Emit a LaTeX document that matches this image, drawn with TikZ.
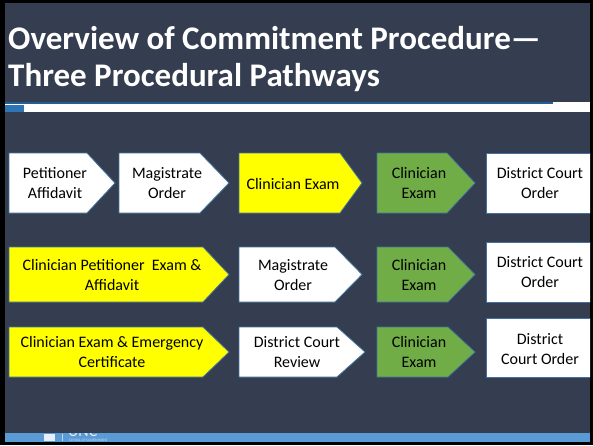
\documentclass[tikz,border=0pt]{standalone}
\usepackage{fontspec}
\setmainfont{Carlito}
\definecolor{slate}{HTML}{353E50}
\definecolor{sepblue}{HTML}{255E91}
\definecolor{blockblue}{HTML}{2E75B6}
\definecolor{band}{HTML}{5B9BD5}
\definecolor{bordc}{HTML}{41719C}
\definecolor{grn}{HTML}{70AD47}
\definecolor{yel}{HTML}{FFFF00}
\newcommand\chev[6]{\draw[box,fill=#6] (#1,#4) -- (#2,#4) -- (#3,{(#4+#5)/2}) -- (#2,#5) -- (#1,#5) -- cycle;}
\begin{document}
\begin{tikzpicture}[x=1pt,y=-1pt,
  box/.style={draw=bordc, line width=0.8pt},
  lbl/.style={font=\fontsize{16}{20}\selectfont, align=center, text=black, inner sep=0pt},
  ttl/.style={anchor=base west, text=white, inner sep=0pt, font=\fontsize{33}{37}\selectfont\bfseries}]
\useasboundingbox (0,0) rectangle (593,445);
\fill[black] (0,0) rectangle (593,445);
\fill[slate] (5,3) rectangle (590,442);
\begin{scope}
\clip (5,3) rectangle (590,442);
% title
\node[ttl] (title1) at (8,49) {Overview of Commitment Procedure—};
\node[ttl] (title2) at (8,86) {Three Procedural Pathways};
% separator
\fill[sepblue] (5,101.5) rectangle (553,104);
\fill[white] (5,104) rectangle (590,112);
\fill[white] (553,101.5) rectangle (590,104);
\fill[blockblue] (5,104.5) rectangle (24,112);
% row 1
\chev{9}{87}{115}{153}{213}{white}
\chev{119}{200}{229}{153}{213}{white}
\chev{239}{340}{362}{153}{213}{yel}
\chev{377}{447}{475}{153}{213}{grn}
\draw[box,fill=white] (486,153) rectangle (600,213);
\node[lbl] (r1a) at (55,183) {Petitioner\\Affidavit};
\node[lbl] (r1b) at (167,183) {Magistrate\\Order};
\node[lbl] (r1c) at (293,184) {Clinician Exam};
\node[lbl] (r1d) at (419,183) {Clinician\\Exam};
\node[lbl] (r1e) at (540,183) {District Court\\Order};
% row 2
\chev{9}{203}{229}{247}{302}{yel}
\chev{239}{335}{362}{247}{302}{white}
\chev{377}{448}{475}{247}{302}{grn}
\draw[box,fill=white] (486,242) rectangle (600,302);
\node[lbl] (r2a) at (112,275) {Clinician Petitioner\ \ Exam \&\\Affidavit};
\node[lbl] (r2b) at (293,275) {Magistrate\\Order};
\node[lbl] (r2c) at (419,275) {Clinician\\Exam};
\node[lbl] (r2d) at (540,272) {District Court\\Order};
% row 3
\chev{9}{203}{229}{327}{377}{yel}
\chev{239}{337}{365}{327}{377}{white}
\chev{377}{448}{475}{327}{377}{grn}
\draw[box,fill=white] (486,318) rectangle (600,377);
\node[lbl] (r3a) at (112,352) {Clinician Exam \& Emergency\\Certificate};
\node[lbl] (r3b) at (297,352) {District Court\\Review};
\node[lbl] (r3c) at (419,352) {Clinician\\Exam};
\node[lbl] (r3d) at (540,349) {District\\Court Order};
% footer
\fill[band] (5,433) rectangle (590,442);
\begin{scope}
\clip (5,433) rectangle (590,442);
\fill[white!85!band] (44,434) rectangle (55,441);
\draw[white!60!band, line width=0.6pt] (62,434) -- (62,441);
\node[anchor=base west, inner sep=0pt, text=white!80!band, font=\fontsize{16}{16}\selectfont] (unc) at (68,436) {UNC};
\node[anchor=base west, inner sep=0pt, text=white!70!band, font=\fontsize{3.5}{4}\selectfont] (sog) at (69,441.5) {SCHOOL OF GOVERNMENT};
\end{scope}
\end{scope}
\end{tikzpicture}
\end{document}
